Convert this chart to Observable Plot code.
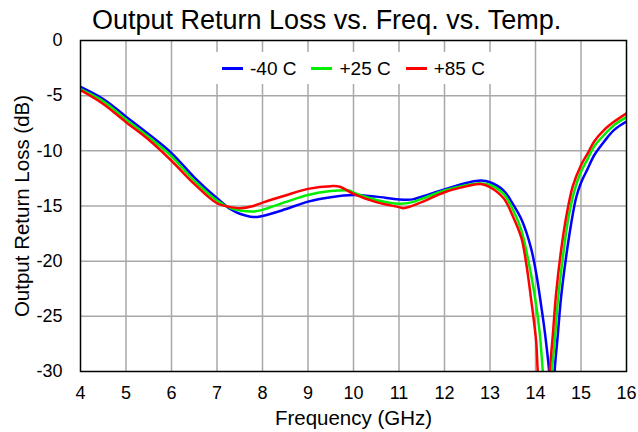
<!DOCTYPE html>
<html><head><meta charset="utf-8">
<script src="https://cdn.jsdelivr.net/npm/d3@7"></script>
<script src="https://cdn.jsdelivr.net/npm/@observablehq/plot@0.6"></script>
<style>
body{margin:0;background:#fff;font-family:"Liberation Sans",Arial,Helvetica,sans-serif;}
#wrap{position:relative;width:638px;height:432px;}
#title{position:absolute;left:92px;top:6.5px;font-size:27px;line-height:27px;white-space:nowrap;color:#000;}
#legend{position:absolute;left:210px;top:52px;width:286px;height:32px;background:#fff;display:flex;align-items:center;padding-left:12px;box-sizing:border-box;font-size:19px;line-height:19px;color:#000;}
#legend .sw{display:inline-block;width:21px;height:3px;margin-right:7px;}
#legend .it{display:flex;align-items:center;margin-right:15px;white-space:nowrap;}
</style>
</head><body>
<div id="wrap"><div id="chart"></div><div id="title">Output Return Loss vs. Freq. vs. Temp.</div><div id="legend"></div></div>
<script>
const seriesNames = ["-40 C", "+25 C", "+85 C"];
const seriesColors = ["#0000ff", "#00ee00", "#ff0000"];
const xTicks = [4,5,6,7,8,9,10,11,12,13,14,15,16];
const yTicks = [0,-5,-10,-15,-20,-25,-30];

const freqM40 = [4,4.5,5,5.5,6,6.5,7,7.3,7.5,7.8,8,8.5,9,9.5,10,10.5,11,11.3,11.5,12,12.5,12.8,13,13.3,13.5,13.7,13.9,14.02,14.12,14.21,14.31,14.365,14.42,14.49,14.56,14.67,14.78,14.89,15.0,15.15,15.29,15.51,15.73,16];
const rlM40   = [-4.2,-5.3,-6.9,-8.5,-10.2,-12.4,-14.3,-15.3,-15.7,-16.0,-15.9,-15.3,-14.6,-14.2,-14.0,-14.15,-14.4,-14.4,-14.15,-13.5,-12.9,-12.7,-12.85,-13.6,-14.8,-16.3,-18.8,-21.2,-23.9,-26.6,-30.5,-36,-30,-26.7,-23.35,-19.7,-16.7,-14.3,-12.9,-11.6,-10.4,-9.15,-8.1,-7.35];

const freqP25 = [4,4.5,5,5.5,6,6.5,7,7.3,7.5,7.8,8,8.5,9,9.5,9.9,10,10.5,11,11.3,11.5,12,12.5,12.8,13,13.3,13.5,13.69,13.83,13.98,14.09,14.16,14.26,14.36,14.42,14.49,14.6,14.71,14.85,15.0,15.15,15.29,15.51,15.73,16];
const rlP25   = [-4.4,-5.5,-7.15,-8.75,-10.5,-12.7,-14.5,-15.2,-15.4,-15.5,-15.35,-14.65,-14.0,-13.65,-13.6,-13.8,-14.45,-14.8,-14.65,-14.35,-13.6,-13.1,-12.95,-13.1,-13.9,-15.3,-17.2,-19.7,-23.05,-26.4,-30,-36,-30,-27.3,-23.7,-19.7,-16.4,-13.7,-11.9,-10.7,-9.6,-8.55,-7.65,-6.95];

const freqP85 = [4,4.5,5,5.5,6,6.5,7,7.3,7.5,7.8,8,8.5,9,9.5,9.7,10,10.5,11,11.1,11.5,12,12.5,12.8,13,13.3,13.5,13.69,13.8,13.9,14.015,14.05,14.18,14.31,14.38,14.45,14.56,14.67,14.82,15.0,15.15,15.29,15.51,15.73,16];
const rlP85   = [-4.5,-5.75,-7.4,-9.0,-10.9,-13.0,-14.75,-15.1,-15.2,-15.0,-14.7,-14.05,-13.45,-13.2,-13.25,-13.9,-14.65,-15.1,-15.2,-14.65,-13.75,-13.2,-13.0,-13.3,-14.3,-15.9,-17.9,-20.3,-23.35,-27.3,-30,-36,-30,-26.7,-23.05,-19.1,-16.1,-13.2,-11.3,-10.2,-9.15,-8.1,-7.35,-6.6];

const freqs = [freqM40, freqP25, freqP85];
const vals = [rlM40, rlP25, rlP85];
const data = [];
seriesNames.forEach((s, i) => freqs[i].forEach((f, j) => data.push({series: s, f, v: vals[i][j]})));

const chart = Plot.plot({
  width: 638, height: 432,
  marginLeft: 80, marginRight: 12, marginTop: 40, marginBottom: 61,
  style: {fontFamily: '"Liberation Sans", Arial, sans-serif', fontSize: "18px", color: "#000", background: "#fff"},
  x: {domain: [4, 16]},
  y: {domain: [-30, 0]},
  color: {domain: seriesNames, range: seriesColors},
  marks: [
    Plot.gridX(xTicks.slice(1, -1), {stroke: "#a8a8a8", strokeOpacity: 1, strokeWidth: 1.5}),
    Plot.gridY(yTicks.slice(1, -1), {stroke: "#a8a8a8", strokeOpacity: 1, strokeWidth: 1.5}),
    Plot.axisX(xTicks, {tickSize: 0, tickPadding: 15, tickFormat: d => `${d}`, fontSize: 18, label: "Frequency (GHz)", labelAnchor: "center", labelOffset: 53, labelArrow: "none"}),
    Plot.axisY(yTicks, {tickSize: 0, tickPadding: 18, tickFormat: d => `${d}`, fontSize: 18, label: "Output Return Loss (dB)", labelAnchor: "center", labelOffset: 66, labelArrow: "none"}),
    Plot.line(data, {x: "f", y: "v", z: "series", stroke: "series", strokeWidth: 2.5, curve: "catmull-rom", clip: true}),
    Plot.frame({stroke: "#000", strokeWidth: 1.5})
  ]
});
document.getElementById("chart").appendChild(chart);
chart.querySelectorAll('[aria-label="x-axis label"], [aria-label="y-axis label"]').forEach(g => {
  g.setAttribute("font-size", "20.5");
  g.querySelectorAll("text").forEach(t => t.setAttribute("font-size", "20.5"));
});

const leg = document.getElementById("legend");
seriesNames.forEach((s, i) => {
  const it = document.createElement("div"); it.className = "it";
  const sw = document.createElement("span"); sw.className = "sw"; sw.style.background = seriesColors[i];
  const tx = document.createElement("span"); tx.textContent = s;
  it.appendChild(sw); it.appendChild(tx); leg.appendChild(it);
});
</script>
</body></html>
